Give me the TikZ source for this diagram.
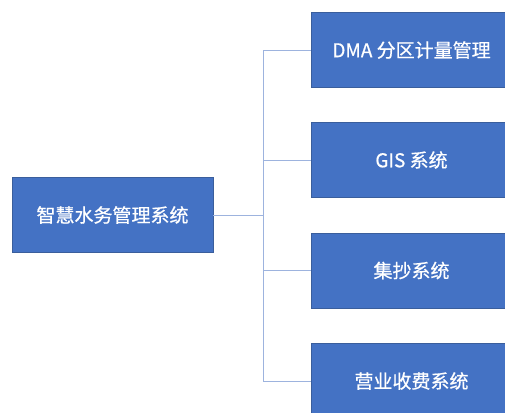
\documentclass[tikz,border=0pt]{standalone}
\usepackage{fontspec}
\setmainfont[FakeBold=0.6]{Noto Sans CJK SC}
\definecolor{boxfill}{HTML}{4472C4}
\definecolor{boxedge}{HTML}{3A5E9C}
\definecolor{connline}{HTML}{9DB3DE}
\begin{document}
\begin{tikzpicture}[x=1pt,y=-1pt,
  blockbox/.style={draw=boxedge,line width=0.8pt,fill=boxfill,text=white,
    minimum width=201pt,minimum height=75pt,inner sep=0pt,
    font=\fontsize{19pt}{22pt}\selectfont},
  conn/.style={draw=connline,line width=0.9pt}]
\useasboundingbox (0,0) rectangle (505,412);
\node[blockbox] (root) at (112.5,215) {智慧水务管理系统};
\node[blockbox] (b1) at (411.5,50) {DMA 分区计量管理};
\node[blockbox] (b2) at (411.5,160) {GIS 系统};
\node[blockbox] (b3) at (411.5,270.5) {集抄系统};
\node[blockbox] (b4) at (411.5,381) {营业收费系统};
\coordinate (j) at (263,215);
\draw[conn] (root.east) -- (j);
\draw[conn] (j) |- (b1.west);
\draw[conn] (j) |- (b2.west);
\draw[conn] (j) |- (b3.west);
\draw[conn] (j) |- (b4.west);
\end{tikzpicture}
\end{document}
